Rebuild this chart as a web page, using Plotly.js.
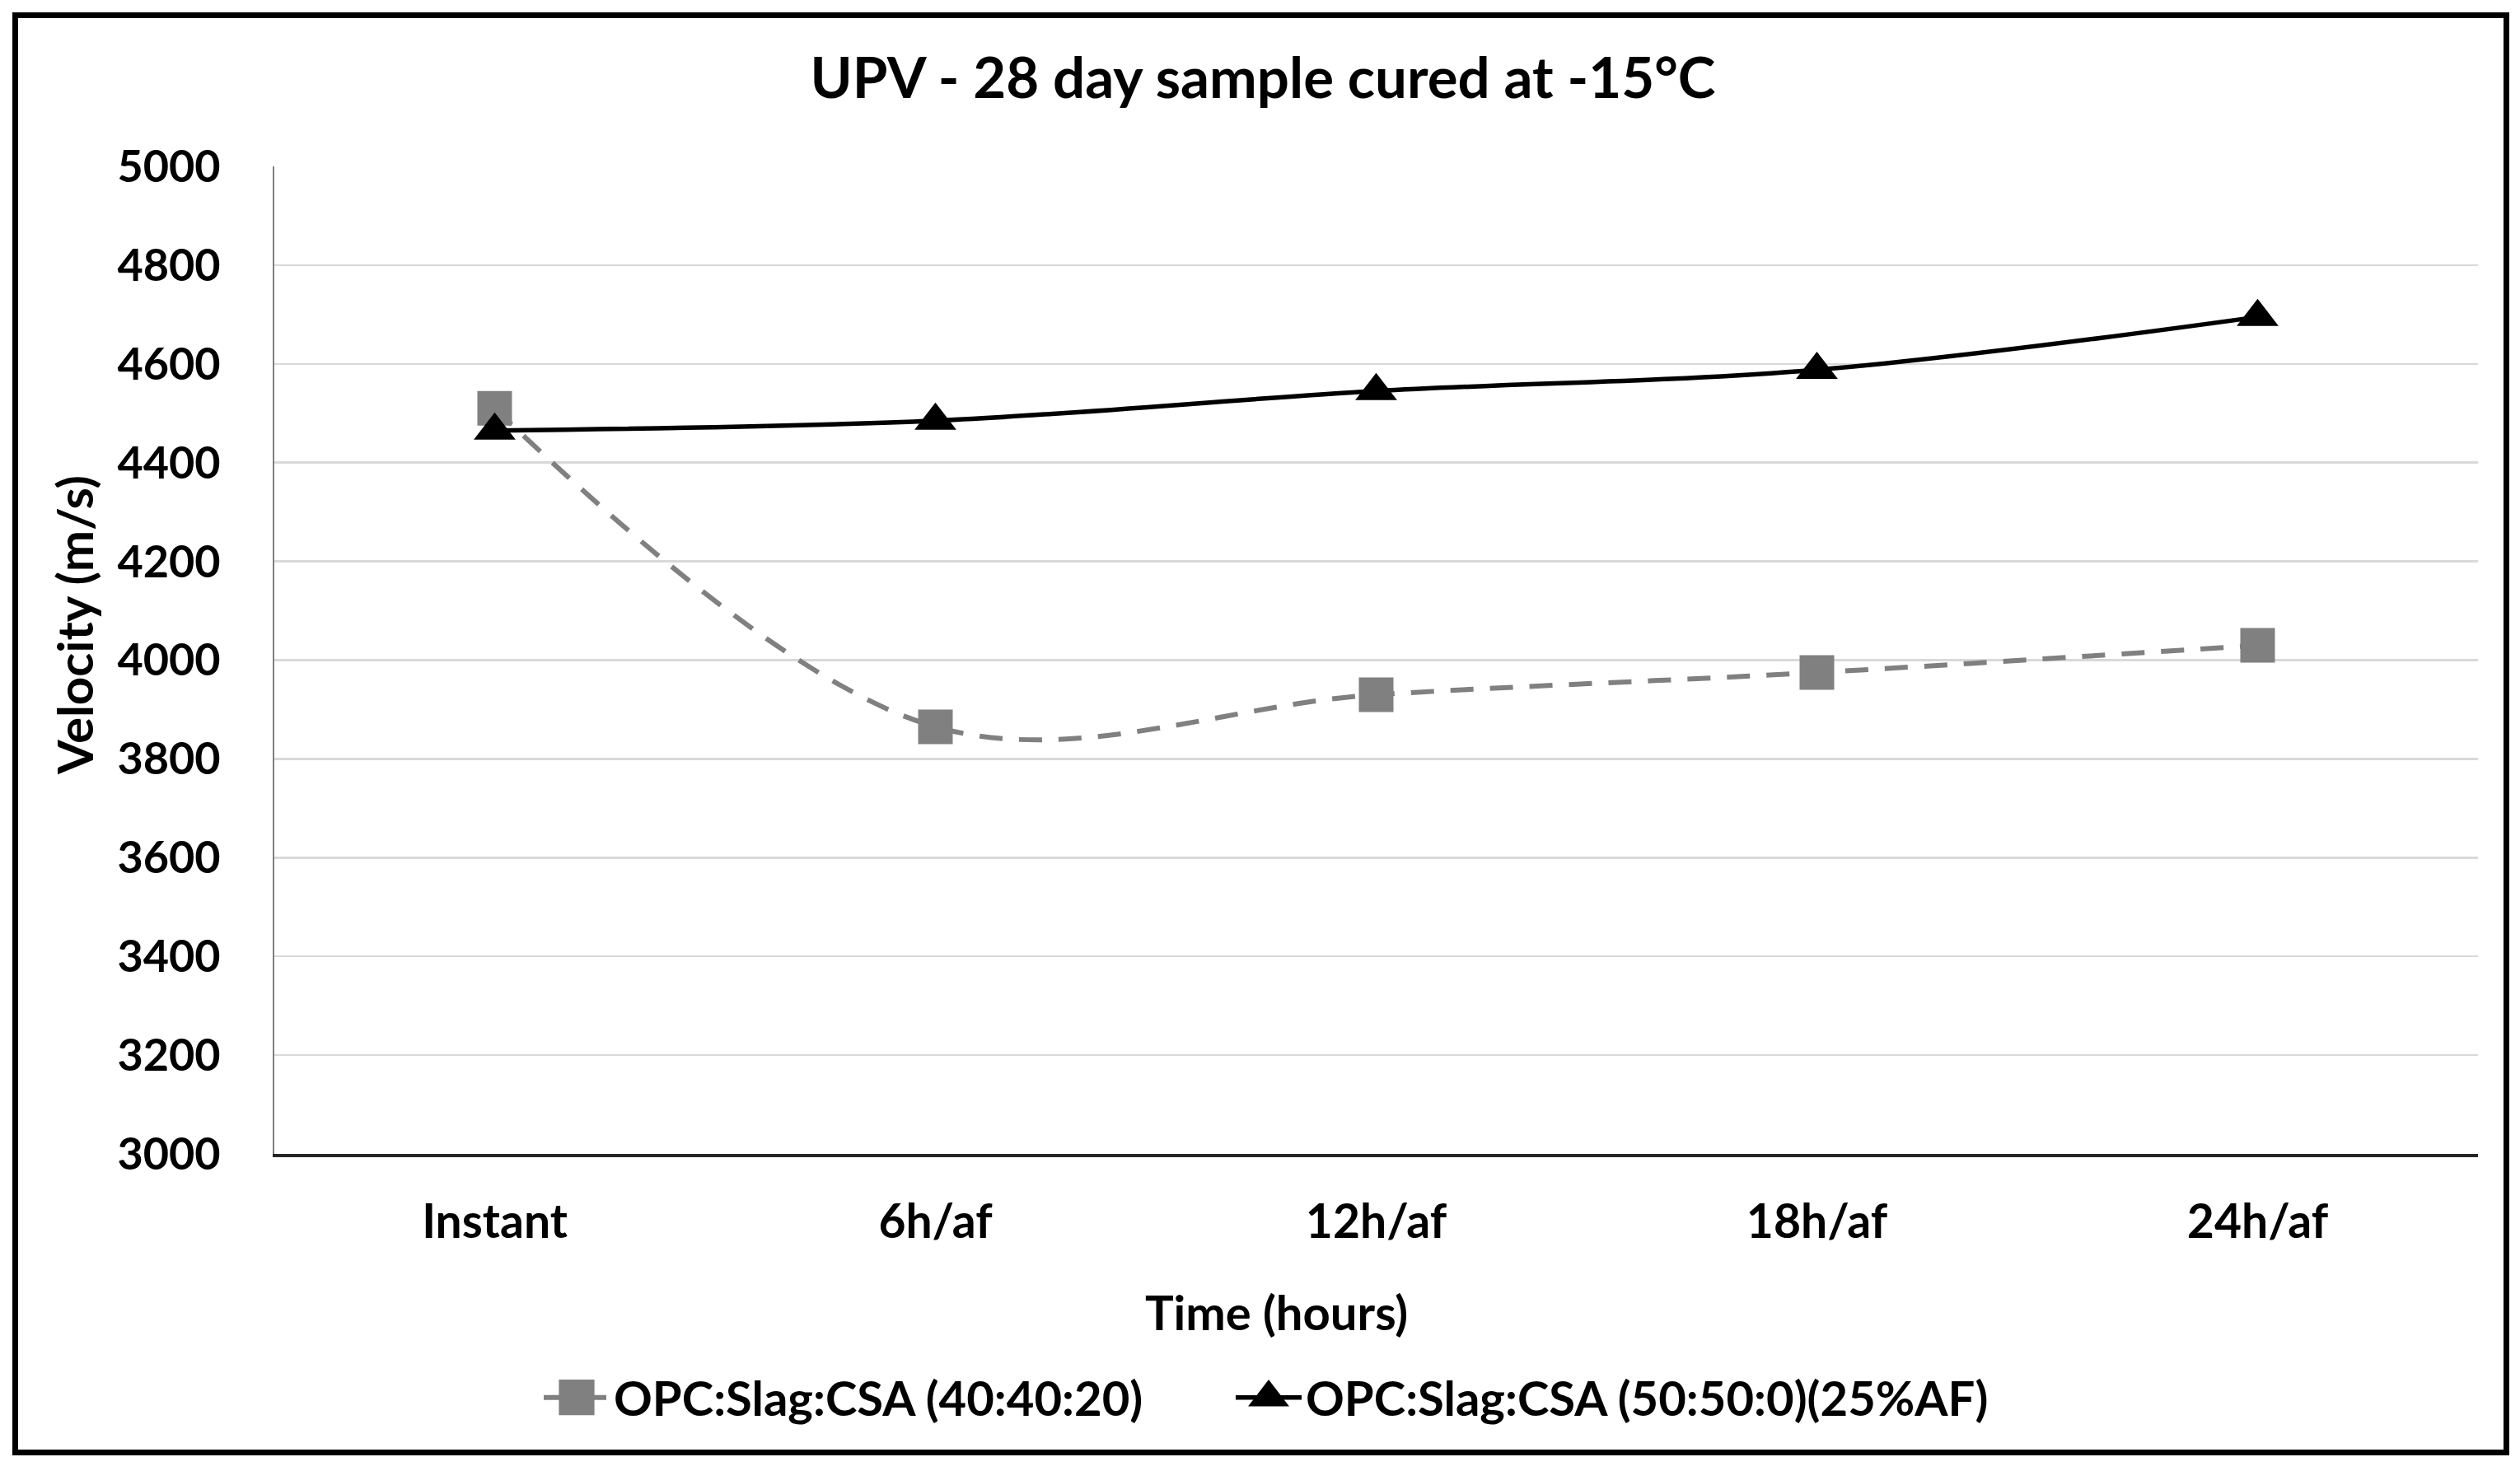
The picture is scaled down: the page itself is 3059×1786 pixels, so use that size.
<!DOCTYPE html>
<html><head><meta charset="utf-8">
<script src="https://cdn.plot.ly/plotly-3.0.1.min.js"></script>
<style>
html,body{margin:0;padding:0;background:#fff;}
#chart{position:absolute;left:0;top:0;width:3059px;height:1786px;}
#frame{position:absolute;left:15px;top:15px;width:3031px;height:1752px;border:7px solid #000;box-sizing:border-box;pointer-events:none;}
</style>
</head><body>
<div id="chart"></div><div id="frame"></div>
<script>
const categories = ['Instant', '6h/af', '12h/af', '18h/af', '24h/af'];
const seriesNames = ['OPC:Slag:CSA (40:40:20)', 'OPC:Slag:CSA (50:50:0)(25%AF)'];
const velocity404020 = [4510, 3865, 3930, 3975, 4030];
const velocity50500AF = [4465, 4485, 4545, 4588, 4695];
const yTickValues = [3000, 3200, 3400, 3600, 3800, 4000, 4200, 4400, 4600, 4800, 5000];
const chartTitle = 'UPV - 28 day sample cured at -15°C';
const xTitle = 'Time (hours)';
const yTitle = 'Velocity (m/s)';

const FONT = 'Lato, "Open Sans", sans-serif';
const W = 3059, H = 1786;
const L = 333, R = 51, T = 202, B = 385;
const pw = W - L - R, ph = H - T - B;
const px2x = p => (p - L) / pw;
const px2y = p => (H - B - p) / ph;

const traces = [
  {
    x: categories, y: velocity404020, name: seriesNames[0],
    type: 'scatter', mode: 'lines+markers', legend: 'legend',
    line: {color: '#808080', width: 6, dash: '28px,20px', shape: 'spline', smoothing: 1},
    marker: {symbol: 'square', size: 42, color: '#808080'}
  },
  {
    x: categories, y: velocity50500AF, name: seriesNames[1],
    type: 'scatter', mode: 'lines+markers', legend: 'legend2',
    line: {color: '#000000', width: 5.5, shape: 'spline', smoothing: 1},
    marker: {symbol: 'triangle-up', size: 44, color: '#000000'}
  }
];

const legendStyle = (xpx) => ({
  orientation: 'h', x: px2x(xpx), xanchor: 'left', y: px2y(1697), yanchor: 'middle',
  font: {family: FONT, size: 58, color: '#000', weight: 700},
  itemwidth: 80, bgcolor: 'rgba(0,0,0,0)'
});

const layout = {
  width: W, height: H,
  margin: {l: L, r: R, t: T, b: B, pad: 0},
  paper_bgcolor: '#ffffff', plot_bgcolor: '#ffffff',
  font: {family: FONT, size: 58, color: '#000', weight: 700},
  showlegend: true,
  title: {
    text: chartTitle, font: {family: FONT, size: 69, color: '#000', weight: 700},
    x: 1533 / W, xref: 'container', xanchor: 'center',
    y: 1 - 95 / H, yref: 'container', yanchor: 'middle'
  },
  xaxis: {
    type: 'category', range: [-0.5, 4.5],
    showgrid: false, zeroline: false,
    showline: true, linecolor: '#262626', linewidth: 4,
    ticks: 'outside', ticklen: 30, tickcolor: 'rgba(0,0,0,0)',
    tickfont: {family: FONT, size: 57, color: '#000', weight: 700},
    fixedrange: true
  },
  yaxis: {
    range: [3000, 5000], tickvals: yTickValues,
    showgrid: true, gridcolor: '#d9d9d9', gridwidth: 2.5,
    zeroline: false, showline: true, linecolor: '#808080', linewidth: 2.5,
    ticks: 'outside', ticklen: 52, tickcolor: 'rgba(0,0,0,0)',
    tickfont: {family: FONT, size: 54, color: '#000', weight: 700},
    fixedrange: true
  },
  legend: legendStyle(655),
  legend2: legendStyle(1495),
  annotations: [
    {text: xTitle, xref: 'paper', yref: 'paper', x: px2x(1549), y: px2y(1592),
     xanchor: 'center', yanchor: 'middle', showarrow: false,
     font: {family: FONT, size: 58, color: '#000', weight: 700}},
    {text: yTitle, xref: 'paper', yref: 'paper', x: px2x(90), y: px2y(759),
     xanchor: 'center', yanchor: 'middle', showarrow: false, textangle: -90,
     font: {family: FONT, size: 60, color: '#000', weight: 700}}
  ]
};

Plotly.newPlot('chart', traces, layout, {displayModeBar: false, staticPlot: true}).then(gd => {
  // enlarge legend symbols to match the chart markers
  gd.querySelectorAll('.legendpoints path.scatterpts').forEach(el => {
    el.setAttribute('transform', (el.getAttribute('transform') || '') + ' scale(2.7)');
  });
  const lineWidths = {};
  lineWidths[seriesNames[0]] = 6;
  lineWidths[seriesNames[1]] = 5.5;
  gd.querySelectorAll('.traces').forEach(g => {
    const t = g.querySelector('.legendtext');
    const w = t ? lineWidths[t.textContent] : null;
    if (w) g.querySelectorAll('.legendlines path').forEach(p => { p.style.strokeWidth = w + 'px'; });
  });
});
</script>
</body></html>
